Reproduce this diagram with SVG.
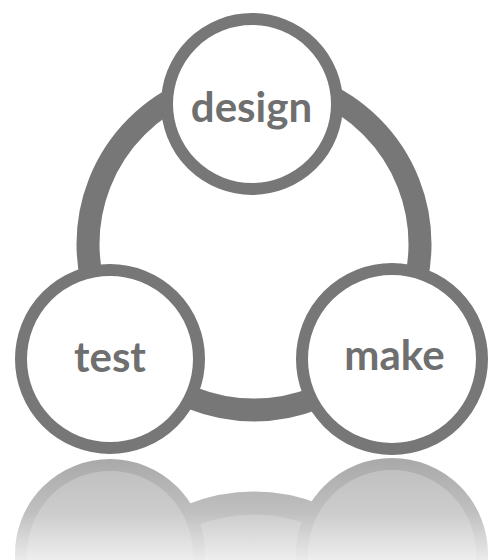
<svg xmlns="http://www.w3.org/2000/svg" width="491" height="560" viewBox="0 0 491 560">
  <defs>
    <style>
      .ring { fill: none; stroke: #777777; stroke-width: 23; }
      .node { fill: #ffffff; stroke: #777777; stroke-width: 12; }
      .label { font-family: Lato, "Open Sans", "DejaVu Sans", sans-serif; font-weight: 700; font-size: 42px; fill: #6f6f6f; text-anchor: middle; }
    </style>
    <!-- gray that lightens toward the bottom edge, for the mirrored copy -->
    <linearGradient id="reflFill" x1="0" y1="456" x2="0" y2="560" gradientUnits="userSpaceOnUse">
      <stop offset="0" stop-color="#bdbdbd"/>
      <stop offset="0.55" stop-color="#cccccc"/>
      <stop offset="1" stop-color="#eeeeee"/>
    </linearGradient>
    <linearGradient id="reflEdge" x1="0" y1="456" x2="0" y2="560" gradientUnits="userSpaceOnUse">
      <stop offset="0" stop-color="#a8a8a8"/>
      <stop offset="0.55" stop-color="#c0c0c0"/>
      <stop offset="1" stop-color="#ebebeb"/>
    </linearGradient>
  </defs>

  <rect width="491" height="560" fill="#ffffff"/>

  <!-- mirrored copy below the cycle (axis at y = 456.5) -->
  <g id="reflection">
    <path d="M88,669 A166,166 0 0 1 420,669 Z" fill="url(#reflFill)"/>
    <circle cx="254" cy="669" r="166" fill="none" stroke="url(#reflEdge)" stroke-width="23"/>
    <circle cx="110" cy="554" r="89" fill="url(#reflFill)" stroke="url(#reflEdge)" stroke-width="12"/>
    <circle cx="392" cy="554" r="90" fill="url(#reflFill)" stroke="url(#reflEdge)" stroke-width="12"/>
  </g>

  <!-- cycle connector -->
  <g id="connectors">
    <circle class="ring" cx="254" cy="244" r="166"/>
  </g>

  <g id="design">
    <circle class="node" cx="252" cy="104" r="85"/>
    <text class="label" x="251.5" y="122">design</text>
  </g>

  <g id="test">
    <circle class="node" cx="110" cy="359" r="89"/>
    <text class="label" x="110" y="372">test</text>
  </g>

  <g id="make">
    <circle class="node" cx="392" cy="359" r="90"/>
    <text class="label" x="394.5" y="370">make</text>
  </g>
</svg>
